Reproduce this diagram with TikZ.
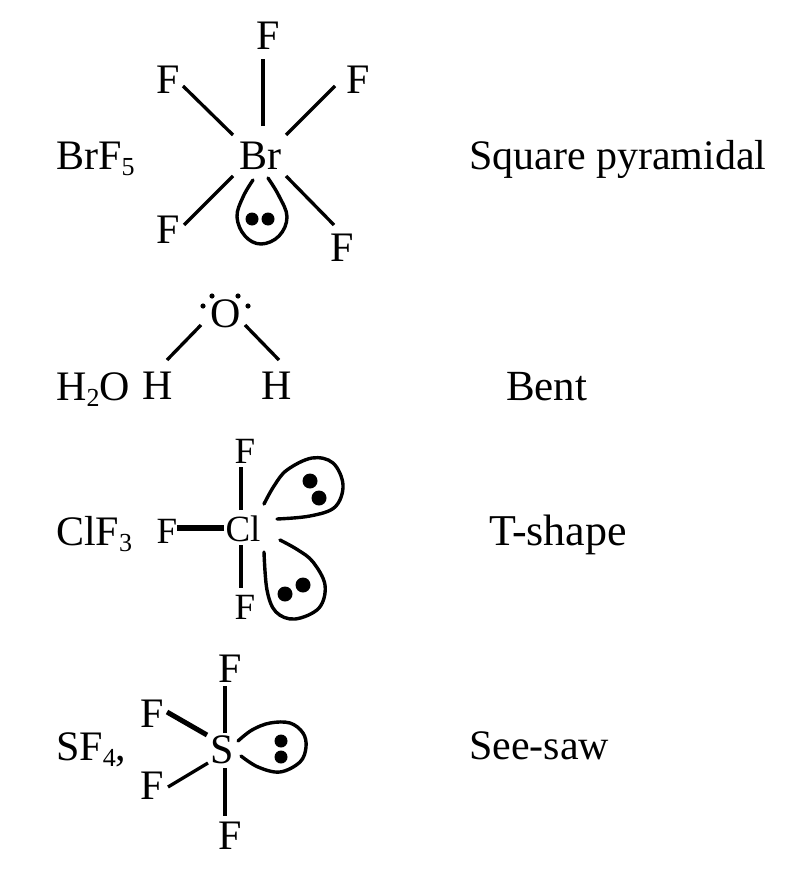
\documentclass[tikz,border=0pt]{standalone}
\usepackage{fontspec}
\setmainfont{Liberation Serif}
\newcommand{\lowidx}[1]{\raisebox{-0.16em}{\fontsize{26}{26}\selectfont #1}}
\tikzset{
  atom/.style={inner sep=0pt,anchor=base,font=\fontsize{42}{42}\selectfont},
  smallatom/.style={inner sep=0pt,anchor=base,font=\fontsize{37}{37}\selectfont},
  formula/.style={inner sep=0pt,anchor=base west,font=\fontsize{42}{42}\selectfont},
  bond/.style={line width=3.3pt,black},
  thickbond/.style={line width=6pt,black},
  wedgebond/.style={line width=5pt,black},
  lobe/.style={line width=3.4pt,black,line cap=round},
  pairdot/.style={fill=black,draw=none}
}
\begin{document}
\begin{tikzpicture}[x=1pt,y=-1pt]
\useasboundingbox[fill=white] (0,0) rectangle (787,883);
% BrF5
\node[formula] (brf) at (56,169) {BrF\lowidx{5}};
\node[formula] (square) at (469,169) {Square pyramidal};
\node[atom] (Br) at (260,169) {Br};
\node[atom] (BrFt) at (268,49) {F};
\node[atom] (BrFul) at (168,93) {F};
\node[atom] (BrFur) at (358,93) {F};
\node[atom] (BrFll) at (168,243) {F};
\node[atom] (BrFlr) at (342,261) {F};
\draw[bond] ([shift={(3,-43)}]Br.base) -- ([shift={(-5,10)}]BrFt.base);
\draw[bond] ([shift={(-27,-34)}]Br.base) -- ([shift={(15,-7)}]BrFul.base);
\draw[bond] ([shift={(26,-34)}]Br.base) -- ([shift={(-23,-7)}]BrFur.base);
\draw[bond] ([shift={(-27,7)}]Br.base) -- ([shift={(16,-18)}]BrFll.base);
\draw[bond] ([shift={(26,7)}]Br.base) -- ([shift={(-8,-36)}]BrFlr.base);
\draw[lobe] plot[smooth,tension=0.65] coordinates {(253,180) (243,197) (237,217) (245,236) (261,244) (279,236) (287,217) (279,196) (268,178)};
\fill[pairdot] (252,219) circle (6.5);
\fill[pairdot] (268,219) circle (6.5);
% H2O
\node[formula] (hto) at (56,400) {H\lowidx{2}O};
\node[formula,font=\fontsize{43}{43}\selectfont] (bent) at (506,400) {Bent};
\node[atom] (O) at (226,327) {O};
\node[atom] (HL) at (158,399) {H};
\node[atom] (HR) at (277,399) {H};
\draw[bond] ([shift={(-25,-2)}]O.base) -- ([shift={(9,-39)}]HL.base);
\draw[bond] ([shift={(19,-2)}]O.base) -- ([shift={(2,-39)}]HR.base);
\foreach \p in {(203,306),(212,296),(238,296),(248,306)} \fill[pairdot] \p circle (2.6);
% ClF3
\node[formula] (clf) at (56,545) {ClF\lowidx{3}};
\node[formula,font=\fontsize{44}{44}\selectfont] (tshape) at (489,545) {T-shape};
\node[smallatom] (Cl) at (243,541) {Cl};
\node[smallatom] (ClFt) at (245,463) {F};
\node[smallatom] (ClFb) at (245,619) {F};
\node[smallatom] (ClFl) at (167,543) {F};
\draw[bond] ([shift={(-2,-31)}]Cl.base) -- ([shift={(-4,4)}]ClFt.base);
\draw[bond] ([shift={(-2,4)}]Cl.base) -- ([shift={(-4,-31)}]ClFb.base);
\draw[thickbond] ([shift={(-19,-13)}]Cl.base) -- ([shift={(10,-15)}]ClFl.base);
\draw[lobe] plot[smooth,tension=0.6] coordinates {(264,504) (274,486) (287,470) (312,458) (333,463) (343,485) (335,507) (310,516) (277,519)};
\draw[lobe] plot[smooth,tension=0.6] coordinates {(280,540) (298,550) (313,562) (325,585) (319,608) (295,619) (276,612) (267,590) (264,552)};
\fill[pairdot] (310,481) circle (7.5);
\fill[pairdot] (319,498) circle (7.5);
\fill[pairdot] (303,585) circle (7.5);
\fill[pairdot] (285,594) circle (7.5);
% SF4
\node[formula] (sf) at (56,760) {SF\lowidx{4},};
\node[formula] (seesaw) at (469,759) {See-saw};
\node[atom] (S) at (222,763) {S};
\node[atom] (SFt) at (230,682) {F};
\node[atom] (SFb) at (230,849) {F};
\node[atom] (SFu) at (152,727) {F};
\node[atom] (SFd) at (152,799) {F};
\draw[bond] ([shift={(3,-30)}]S.base) -- ([shift={(-5,4)}]SFt.base);
\draw[bond] ([shift={(3,5)}]S.base) -- ([shift={(-5,-33)}]SFb.base);
\draw[wedgebond] ([shift={(-15,-28)}]S.base) -- ([shift={(15,-15)}]SFu.base);
\draw[bond] ([shift={(-14,0)}]S.base) -- ([shift={(16,-12)}]SFd.base);
\draw[lobe] plot[smooth,tension=0.6] coordinates {(238,741) (252,730) (270,723) (290,723) (303,733) (306,747) (300,762) (280,772) (258,767) (241,756)};
\fill[pairdot] (281,741) circle (6.5);
\fill[pairdot] (281,757) circle (6.5);
\end{tikzpicture}
\end{document}
